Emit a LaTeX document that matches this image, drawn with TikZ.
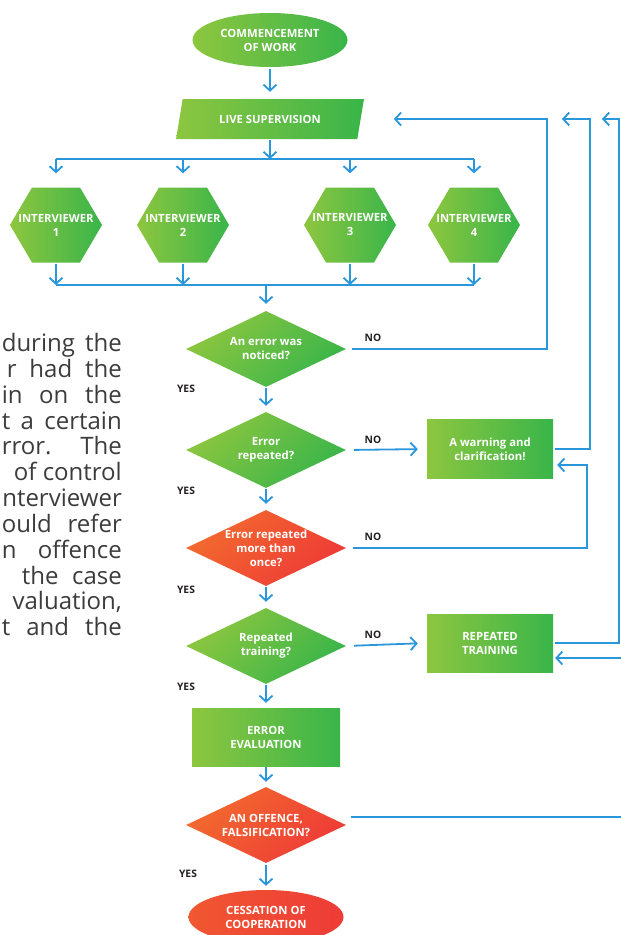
\documentclass[tikz,border=0pt]{standalone}
\usepackage{fontspec}
\setmainfont{Open Sans}
\usetikzlibrary{shapes.geometric,arrows.meta,calc}

\definecolor{greenL}{HTML}{8DC63F}
\definecolor{greenD}{HTML}{39B54A}
\definecolor{redL}{HTML}{F26A2E}
\definecolor{redD}{HTML}{EE3B37}
\definecolor{wire}{HTML}{2A96DC}
\definecolor{ink}{HTML}{231F20}
\definecolor{bodytext}{HTML}{3C3C3C}

\newcommand\jline[2]{\makebox[#1pt][s]{#2}}

\tikzset{
  shapetext/.style={text=white, font=\bfseries\fontsize{11.3}{14}\selectfont, align=center, inner sep=0pt},
  greenfill/.style={left color=greenL, right color=greenD},
  greendiag/.style={left color=greenL, right color=greenD, shading angle=45},
  reddiag/.style={left color=redL, right color=redD, shading angle=45},
  hexbox/.style={rectangle, minimum width=92pt, minimum height=75pt, shapetext},
  decision/.style={diamond, minimum width=160pt, minimum height=76pt, inner sep=0pt},
  boxnode/.style={rectangle, greenfill, shapetext},
  wireline/.style={draw=wire, line width=1.8pt},
  flow/.style={draw=wire, line width=1.8pt, -{Straight Barb[length=6pt,width=13pt]}},
  lab/.style={font=\bfseries\fontsize{10.3}{12}\selectfont, text=ink, inner sep=0pt},
  para/.style={anchor=mid east, font=\fontsize{24}{26}\selectfont, text=bodytext, inner sep=0pt},
}

\begin{document}
\begin{tikzpicture}[x=1pt,y=-1pt]
\useasboundingbox (0,0) rectangle (621,935);
\clip (0,0) rectangle (621,935);

% justified paragraph running beside the chart
\node[para] (p1) at (122,349) {\jline{120}{during the}};
\node[para] (p2) at (122,375) {\jline{115}{r had the}};
\node[para] (p3) at (122,401) {\jline{120}{in on the}};
\node[para] (p4) at (122,427) {\jline{120}{t a certain}};
\node[para] (p5) at (122,452) {\jline{120}{rror. The}};
\node[para] (p6) at (122,478) {of control};
\node[para] (p7) at (122,504) {nterviewer};
\node[para] (p8) at (122,530) {\jline{120}{ould refer}};
\node[para] (p9) at (122,556) {\jline{120}{n offence}};
\node[para] (p10) at (122,582) {\jline{100}{the case}};
\node[para] (p11) at (122,607) {valuation,};
\node[para] (p12) at (122,633) {\jline{120}{t and the}};

% top of the chart
\node[ellipse, greenfill, minimum width=155pt, minimum height=54pt, shapetext] (start) at (270,40) {COMMENCEMENT\\OF WORK};
\node[trapezium, trapezium left angle=65, trapezium right angle=115, trapezium stretches=true,
      minimum width=188pt, minimum height=40pt, greenfill, shapetext] (live) at (270,119) {LIVE SUPERVISION};

% hexagon bodies of the interviewer boxes
\foreach \x in {56,183,350,474}
  \shade[greenfill] (\x-46,225) -- (\x-24,187.5) -- (\x+24,187.5) -- (\x+46,225)
        -- (\x+24,262.5) -- (\x-24,262.5) -- cycle;
\node[hexbox] (i1) at (56,225) {INTERVIEWER\\1};
\node[hexbox] (i2) at (183,225) {INTERVIEWER\\2};
\node[hexbox] (i3) at (350,225) {INTERVIEWER\\3};
\node[hexbox] (i4) at (474,225) {INTERVIEWER\\4};

\coordinate (busTop) at (270,159);
\coordinate (busBot) at (266,285);

% decisions and actions
\node[decision, greendiag, label={[shapetext]center:{An error was\\noticed?}}] (d1) at (266,349) {};
\node[decision, greendiag, label={[shapetext]center:{Error\\repeated?}}] (d2) at (266,450) {};
\node[decision, reddiag, label={[shapetext]center:{Error repeated\\more than\\once?}}] (d3) at (266,548) {};
\node[decision, greendiag, label={[shapetext]center:{Repeated\\training?}}] (d4) at (266,646) {};
\node[boxnode, minimum width=148pt, minimum height=58pt] (eval) at (266,737) {ERROR\\EVALUATION};
\node[decision, reddiag, label={[shapetext]center:{AN OFFENCE,\\FALSIFICATION?}}] (d5) at (266,825) {};
\node[ellipse, left color=redL!60!redD, right color=redD, minimum width=155pt, minimum height=54pt, shapetext] (stop) at (266,917) {CESSATION OF\\COOPERATION};

\node[boxnode, minimum width=126pt, minimum height=59pt] (warn) at (490,449) {A warning and\\clarification!};
\node[boxnode, minimum width=126pt, minimum height=58pt] (train) at (490,643) {REPEATED\\TRAINING};

% bends of the return lines
\coordinate (r1) at (547,119);
\coordinate (r2) at (590,119);
\coordinate (m2) at (562,119);
\coordinate (c3) at (587,465);
\coordinate (r3) at (619,119);
\coordinate (m3) at (602,119);
\coordinate (off) at (640,658);

% main column
\draw[flow, shorten <=2pt, shorten >=7pt] (start) -- (live);
\draw[flow, shorten <=1pt] (live.south) -- (busTop);
\draw[wireline] (busTop -| i1.north) -- (busTop -| i4.north);
\foreach \n in {i1,i2,i3,i4}{
  \draw[flow, shorten >=14pt] (busTop -| \n.north) -- (\n.north);
  \draw[flow, shorten <=1pt] (\n.south) -- (busBot -| \n.south);
}
\draw[wireline] (busBot -| i1.south) -- (busBot -| i4.south);
\draw[flow, shorten >=7pt] (busBot) -- (d1.north);
\draw[flow, shorten <=1pt, shorten >=6pt] (d1.south) -- (d2.north);
\draw[flow, shorten <=1pt, shorten >=6pt] (d2.south) -- (d3.north);
\draw[flow, shorten <=1pt, shorten >=6pt] (d3.south) -- (d4.north);
\draw[flow, shorten <=1pt, shorten >=5pt] (d4.south) -- (eval.north);
\draw[flow, shorten <=1pt, shorten >=5pt] (eval.south) -- (d5.north);
\draw[flow, shorten <=2pt, shorten >=4pt] (d5.south) -- (stop.north);

% branches and returns
\draw[flow, shorten <=6pt, shorten >=33pt] (d1.east) -| (r1) -- (live.east);
\draw[flow, shorten <=8pt, shorten >=9pt] (d2.east) -- (warn.west);
\draw[flow, shorten <=2pt] (warn.east) -| (r2) -- (m2);
\draw[flow, shorten <=7pt, shorten >=4pt] (d3.east) -| (c3) -- ($(warn.east)+(0,16)$);
\draw[flow, shorten <=8pt, shorten >=9pt] (d4.east) -- (train.west);
\draw[flow, shorten <=2pt] (train.east) -| (r3) -- (m3);
\draw[flow, shorten >=2pt] ([shift={(5,-8)}]d5.east) -| (off) -- ($(train.east)+(0,15)$);

% answers
\node[lab] (no1) at (373,338) {NO};
\node[lab] (no2) at (373,440) {NO};
\node[lab] (no3) at (373,537) {NO};
\node[lab] (no4) at (373,635) {NO};
\node[lab] (yes1) at (186,389) {YES};
\node[lab] (yes2) at (186,491) {YES};
\node[lab] (yes3) at (186,590) {YES};
\node[lab] (yes4) at (186,687) {YES};
\node[lab] (yes5) at (188,874) {YES};
\end{tikzpicture}
\end{document}
